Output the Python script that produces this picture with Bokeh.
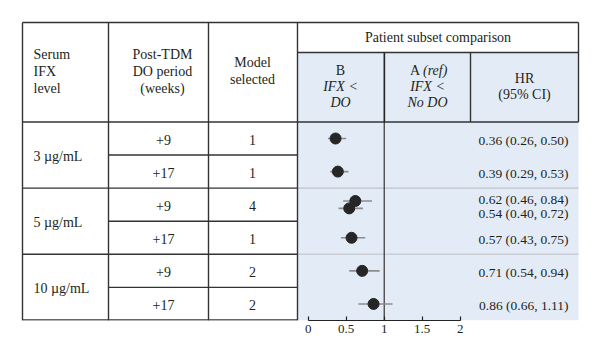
from bokeh.plotting import figure
from bokeh.models import Range1d, LinearAxis, FixedTicker, ColumnDataSource
from bokeh.core.properties import value
from bokeh.embed import file_html
from bokeh.resources import INLINE

# ---------------- data ----------------
serum_levels = ["3 µg/mL", "5 µg/mL", "10 µg/mL"]
do_periods = ["+9", "+17", "+9", "+17", "+9", "+17"]
models_selected = ["1", "1", "4", "1", "2", "2"]
est_row = [0, 1, 2, 2, 3, 4, 5]          # table row of each estimate
hr = [0.36, 0.39, 0.62, 0.54, 0.57, 0.71, 0.86]
ci_low = [0.26, 0.29, 0.46, 0.40, 0.43, 0.54, 0.66]
ci_high = [0.50, 0.53, 0.84, 0.72, 0.75, 0.94, 1.11]
ref_hr = 1.0
axis_ticks = [0, 0.5, 1, 1.5, 2]
axis_tick_labels = ["0", "0.5", "1", "1.5", "2"]

# ---------------- layout (page pixel coordinates) ----------------
FONT = value("Liberation Serif")
TXT = "#231f20"
LINE = "#333333"
BLUE = "#e3ecf6"
X_L, X_C1, X_C2, X_C3, X_C4, X_C5, X_R = 22, 108, 208, 297, 384, 470, 578
Y_T, Y_SUB, Y_H = 22, 52, 121.5
ROW_H = 33.1
N_ROWS = len(do_periods)
Y_B = Y_H + ROW_H * N_ROWS
AX0_PX, PX_PER_UNIT = 307.7, 76.0
OFF = 0

W, H = 584, 344
p = figure(width=W, height=H, output_backend="svg", toolbar_location=None,
           x_range=Range1d(OFF, OFF + W), y_range=Range1d(Y_B, OFF),
           x_axis_location=None, y_axis_location=None)
p.min_border = 0
p.min_border_bottom = int(round(OFF + H - Y_B))
p.outline_line_color = None
p.grid.visible = False
p.background_fill_color = "white"
p.border_fill_color = "white"
p.extra_x_ranges = {"hr": Range1d((OFF - AX0_PX) / PX_PER_UNIT, (OFF + W - AX0_PX) / PX_PER_UNIT)}

# blue panel
p.quad(left=[X_C3], right=[X_R], top=[Y_SUB], bottom=[Y_B], fill_color=BLUE, line_color=None)

row_top = [Y_H + i * ROW_H for i in range(N_ROWS + 1)]
row_mid = [Y_H + (i + 0.5) * ROW_H for i in range(N_ROWS)]

# gray group separators in the blue panel
grp_lines = [row_top[2 * g] for g in range(1, len(serum_levels))]
p.segment(x0=[X_C3] * len(grp_lines), x1=[X_R] * len(grp_lines), y0=grp_lines, y1=grp_lines,
          line_color="#c9ced4", line_width=1.6)

# table lines
x0s, x1s, y0s, y1s = [], [], [], []
def seg(a, b, c, d):
    x0s.append(a); y0s.append(b); x1s.append(c); y1s.append(d)
seg(X_L, Y_T, X_R, Y_T)
seg(X_L, Y_T, X_L, Y_B)
for xc in (X_C1, X_C2, X_C3):
    seg(xc, Y_T, xc, Y_B)
seg(X_R, Y_T, X_R, Y_H)
seg(X_C3, Y_SUB, X_R, Y_SUB)
seg(X_C4, Y_SUB, X_C4, Y_H)
seg(X_C5, Y_SUB, X_C5, Y_H)
seg(X_L, Y_H, X_R, Y_H)
for i in range(1, N_ROWS):
    seg(X_L if i % 2 == 0 else X_C1, row_top[i], X_C3, row_top[i])
seg(X_L, Y_B - 0.5, X_C3, Y_B - 0.5)
p.segment(x0=x0s, x1=x1s, y0=y0s, y1=y1s, line_color=LINE, line_width=1.4)

# reference line at HR = 1
p.segment(x0=[ref_hr], x1=[ref_hr], y0=[Y_SUB], y1=[Y_B], line_color="#222222",
          line_width=1.1, x_range_name="hr")

def txt(xs, ys, ts, size="14px", align="center", style="normal"):
    p.text(x=xs, y=ys, text=ts, text_font=FONT, text_font_size=size, text_align=align,
           text_baseline="middle", text_color=TXT, text_font_style=style)

# header texts
def lines_at(xc, yc, lines, lh, align="center", style="normal"):
    n = len(lines)
    ys = [yc + (k - (n - 1) / 2) * lh for k in range(n)]
    txt([xc] * n, ys, lines, align=align, style=style)

lines_at(33, 71, ["Serum", "IFX", "level"], 17, align="left")
lines_at(162, 71, ["Post-TDM", "DO period", "(weeks)"], 17)
lines_at(252, 70.5, ["Model", "selected"], 17)
txt([(X_C3 + X_R) / 2], [37], ["Patient subset comparison"])
txt([340], [70], ["B"])
txt([340, 340], [86, 102], ["IFX <", "DO"], style="italic")
txt([419.5], [70], ["A"], align="right")
txt([422.5], [70], ["(ref)"], align="left", style="italic")
txt([427, 427], [86, 102], ["IFX <", "No DO"], style="italic")
txt([524, 524], [78, 94], ["HR", "(95% CI)"])

# table body
DY = 1.5
grp_mid = [(row_top[2 * g] + row_top[2 * g + 2]) / 2 + DY for g in range(len(serum_levels))]
txt([33] * len(serum_levels), grp_mid, serum_levels, align="left")
txt([163] * N_ROWS, [m + DY for m in row_mid], do_periods)
txt([252] * N_ROWS, [m + DY for m in row_mid], models_selected)

# forest estimates
dot_y, lab_y = [], []
for k, r in enumerate(est_row):
    same = [j for j, rr in enumerate(est_row) if rr == r]
    off = same.index(k) - (len(same) - 1) / 2
    dot_y.append(row_mid[r] + off * 7.4)
    lab_y.append(row_mid[r] + DY + off * 14)
labels = [f"{h:.2f} ({l:.2f}, {u:.2f})" for h, l, u in zip(hr, ci_low, ci_high)]
src = ColumnDataSource(dict(hr=hr, lo=ci_low, hi=ci_high, y=dot_y))
p.segment(x0="lo", x1="hi", y0="y", y1="y", source=src, line_color="#8c8c8c",
          line_width=1.6, x_range_name="hr")
p.scatter(x="hr", y="y", source=src, size=11, fill_color="#262626", line_color="#262626",
          x_range_name="hr")
txt([568] * len(labels), lab_y, labels, size="13.5px", align="right")

# HR axis
ax = LinearAxis(x_range_name="hr", bounds=(0, 2), ticker=FixedTicker(ticks=axis_ticks),
                major_tick_in=4, major_tick_out=0, minor_tick_line_color=None,
                axis_line_color="#222222", major_tick_line_color="#222222",
                axis_line_width=1.2, major_tick_line_width=1.2,
                major_label_standoff=4, major_label_text_font="Liberation Serif",
                major_label_text_font_size="13px", major_label_text_color=TXT,
                major_label_overrides={t: s for t, s in zip(axis_ticks, axis_tick_labels)})
p.add_layout(ax, "below")

open("out.html", "w").write(file_html(p, INLINE))
